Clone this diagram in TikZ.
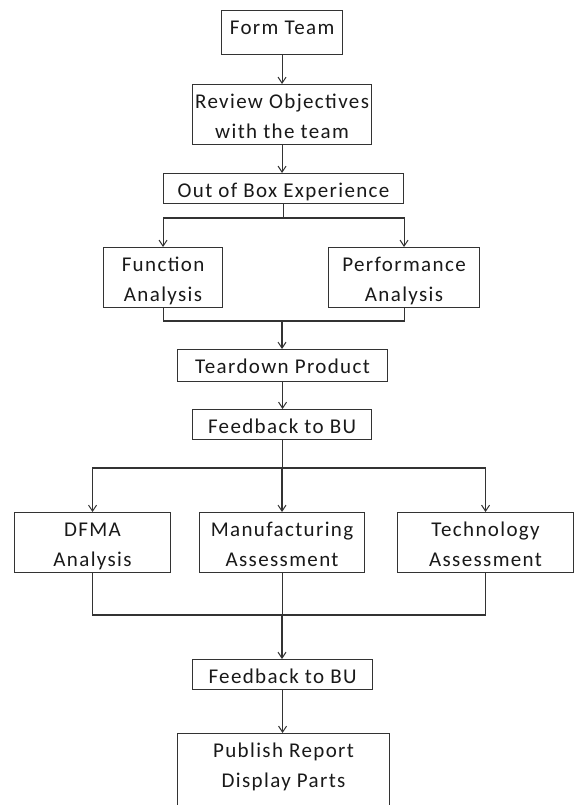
\documentclass[tikz,border=0pt]{standalone}
\usepackage{fontspec}
\setmainfont{Carlito}[LetterSpace=6.5]
\usetikzlibrary{arrows.meta}
\newcommand\bxt[3]{\parbox[t][#1][t]{#2}{\centering\fontsize{21pt}{30pt}\selectfont\rule{0pt}{24pt}#3\par}}
\tikzset{
  bx/.style={draw=black!80, line width=1.1pt, inner sep=0pt, anchor=north west, text=black!90},
  ln/.style={draw=black!80, line width=1.1pt},
  arr/.style={ln, -{Straight Barb[length=6pt,width=8pt,line width=1pt]}}
}
\begin{document}
\begin{tikzpicture}[x=1pt,y=-1pt]
\clip (0,0) rectangle (574,805);
\fill[white] (0,0) rectangle (574,805);
\node[bx] (ft)   at (221,10)  {\bxt{44pt}{121pt}{Form Team}};
\node[bx] (rev)  at (192,84)  {\bxt{60pt}{179pt}{Review Objectives\\with the team}};
\node[bx] (oobe) at (163,173) {\bxt{30pt}{240pt}{Out of Box Experience}};
\node[bx] (func) at (103,247) {\bxt{60pt}{119pt}{Function\\Analysis}};
\node[bx] (perf) at (328,247) {\bxt{60pt}{151pt}{Performance\\Analysis}};
\node[bx] (td)   at (177,349) {\bxt{32pt}{210pt}{Teardown Product}};
\node[bx] (fba)  at (192,409) {\bxt{30pt}{179pt}{Feedback to BU}};
\node[bx] (dfma) at (14,512)  {\bxt{60pt}{156pt}{DFMA\\Analysis}};
\node[bx] (manu) at (199,512) {\bxt{60pt}{165pt}{Manufacturing\\Assessment}};
\node[bx] (tech) at (397,512) {\bxt{60pt}{176pt}{Technology\\Assessment}};
\node[bx] (fbb)  at (192,659) {\bxt{30pt}{180pt}{Feedback to BU}};
\node[bx] (pub)  at (177,733) {\bxt{100pt}{212pt}{Publish Report\\Display Parts}};

\coordinate (s1) at (282,218);
\coordinate (m1) at (282,321);
\coordinate (s2) at (282,468);
\coordinate (m2) at (282,615);

\draw[arr] (ft.south) -- (ft.south |- rev.north);
\draw[arr] (rev.south) -- (rev.south |- oobe.north);
\draw[ln] (oobe.south) -- (oobe.south |- s1);
\draw[arr] (s1) -| (func.north);
\draw[arr] (s1) -| (perf.north);
\draw[ln] (func.south) |- (m1) -| (perf.south);
\draw[arr] (m1) -- (m1 |- td.north);
\draw[arr] (td.south) -- (td.south |- fba.north);
\draw[ln] (fba.south) -- (fba.south |- s2);
\draw[arr] (s2) -| (dfma.north);
\draw[arr] (s2) -- (s2 |- manu.north);
\draw[arr] (s2) -| (tech.north);
\draw[ln] (dfma.south) |- (m2) -| (tech.south);
\draw[ln] (manu.south) -- (manu.south |- m2);
\draw[arr] (m2) -- (m2 |- fbb.north);
\draw[arr] (fbb.south) -- (fbb.south |- pub.north);
\end{tikzpicture}
\end{document}
